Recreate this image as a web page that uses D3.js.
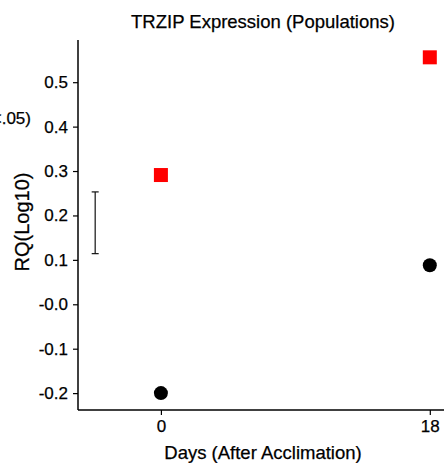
<!DOCTYPE html>
<html>
<head>
<meta charset="utf-8">
<script src="https://cdn.jsdelivr.net/npm/d3@7"></script>
<style>
  body { margin: 0; background: #fff; overflow: hidden; }
  text { font-family: "Liberation Sans", Arial, sans-serif; fill: #000; stroke: #000; stroke-width: 0.25px; }
</style>
</head>
<body>
<div class="vis"></div>
<script>
const days = [0, 18];
const redValues = [0.291, 0.556];
const blackValues = [-0.200, 0.088];
const yTicks = [-0.2, -0.1, 0.0, 0.1, 0.2, 0.3, 0.4, 0.5];
const yTickLabels = ["-0.2", "-0.1", "-0.0", "0.1", "0.2", "0.3", "0.4", "0.5"];
const lsdDay = -4.4;
const lsdRange = [0.114, 0.253];

const margin = { top: 40, right: 0, bottom: 53, left: 78 };
const width = 444 - margin.left;
const height = 463 - margin.top - margin.bottom;

let svg = d3.select(".vis")
    .append("svg")
    .attr("width", 444)
    .attr("height", 463);

let g = svg.append("g")
    .attr("transform", "translate(" + margin.left + "," + margin.top + ")");

let x = d3.scaleLinear().domain([-5.55, 18.95]).range([0, width]);
let y = d3.scaleLinear().domain([-0.238, 0.595]).range([height, 0]);

// y axis
let yAxis = g.append("g")
    .call(d3.axisLeft(y).tickValues(yTicks).tickSize(5).tickPadding(5)
        .tickFormat((d, i) => yTickLabels[i]));
yAxis.select(".domain").attr("d", "M0," + height + "V0").attr("stroke-width", 1.5);
yAxis.selectAll(".tick line").attr("stroke-width", 1.2);
yAxis.selectAll("text").style("font-size", "17px");

// x axis
let xAxis = g.append("g")
    .attr("transform", "translate(0," + height + ")")
    .call(d3.axisBottom(x).tickValues(days).tickSize(5).tickPadding(5));
xAxis.select(".domain").attr("d", "M0,0H" + (width + 20)).attr("stroke-width", 1.5);
xAxis.selectAll(".tick line").attr("stroke-width", 1.2);
xAxis.selectAll("text").style("font-size", "17px");

// LSD bar
let lx = x(lsdDay);
g.append("line").attr("x1", lx).attr("x2", lx)
    .attr("y1", y(lsdRange[0])).attr("y2", y(lsdRange[1]))
    .attr("stroke", "#111").attr("stroke-width", 1.2);
lsdRange.forEach(v => {
    g.append("line").attr("x1", lx - 3.5).attr("x2", lx + 3.5)
        .attr("y1", y(v)).attr("y2", y(v))
        .attr("stroke", "#111").attr("stroke-width", 1.2);
});

// black circles
g.append("g").selectAll("circle")
    .data(days)
    .enter()
    .append("circle")
    .attr("cx", d => x(d))
    .attr("cy", (d, i) => y(blackValues[i]))
    .attr("r", 7)
    .style("fill", "#000");

// red squares
g.append("g").selectAll("rect")
    .data(days)
    .enter()
    .append("rect")
    .attr("x", d => x(d) - 7)
    .attr("y", (d, i) => y(redValues[i]) - 7)
    .attr("width", 14)
    .attr("height", 14)
    .style("fill", "#ff0000");

// title
svg.append("text")
    .attr("x", 263).attr("y", 28)
    .attr("text-anchor", "middle")
    .style("font-size", "18.5px")
    .text("TRZIP Expression (Populations)");

// x label
svg.append("text")
    .attr("x", 263).attr("y", 459)
    .attr("text-anchor", "middle")
    .style("font-size", "18.5px")
    .text("Days (After Acclimation)");

// y label
svg.append("text")
    .attr("transform", "translate(29,222) rotate(-90)")
    .attr("text-anchor", "middle")
    .style("font-size", "20px")
    .text("RQ(Log10)");

// clipped legend note
svg.append("text")
    .attr("x", 31).attr("y", 124)
    .attr("text-anchor", "end")
    .style("font-size", "17px")
    .text("LSD (p<.05)");
</script>
</body>
</html>
